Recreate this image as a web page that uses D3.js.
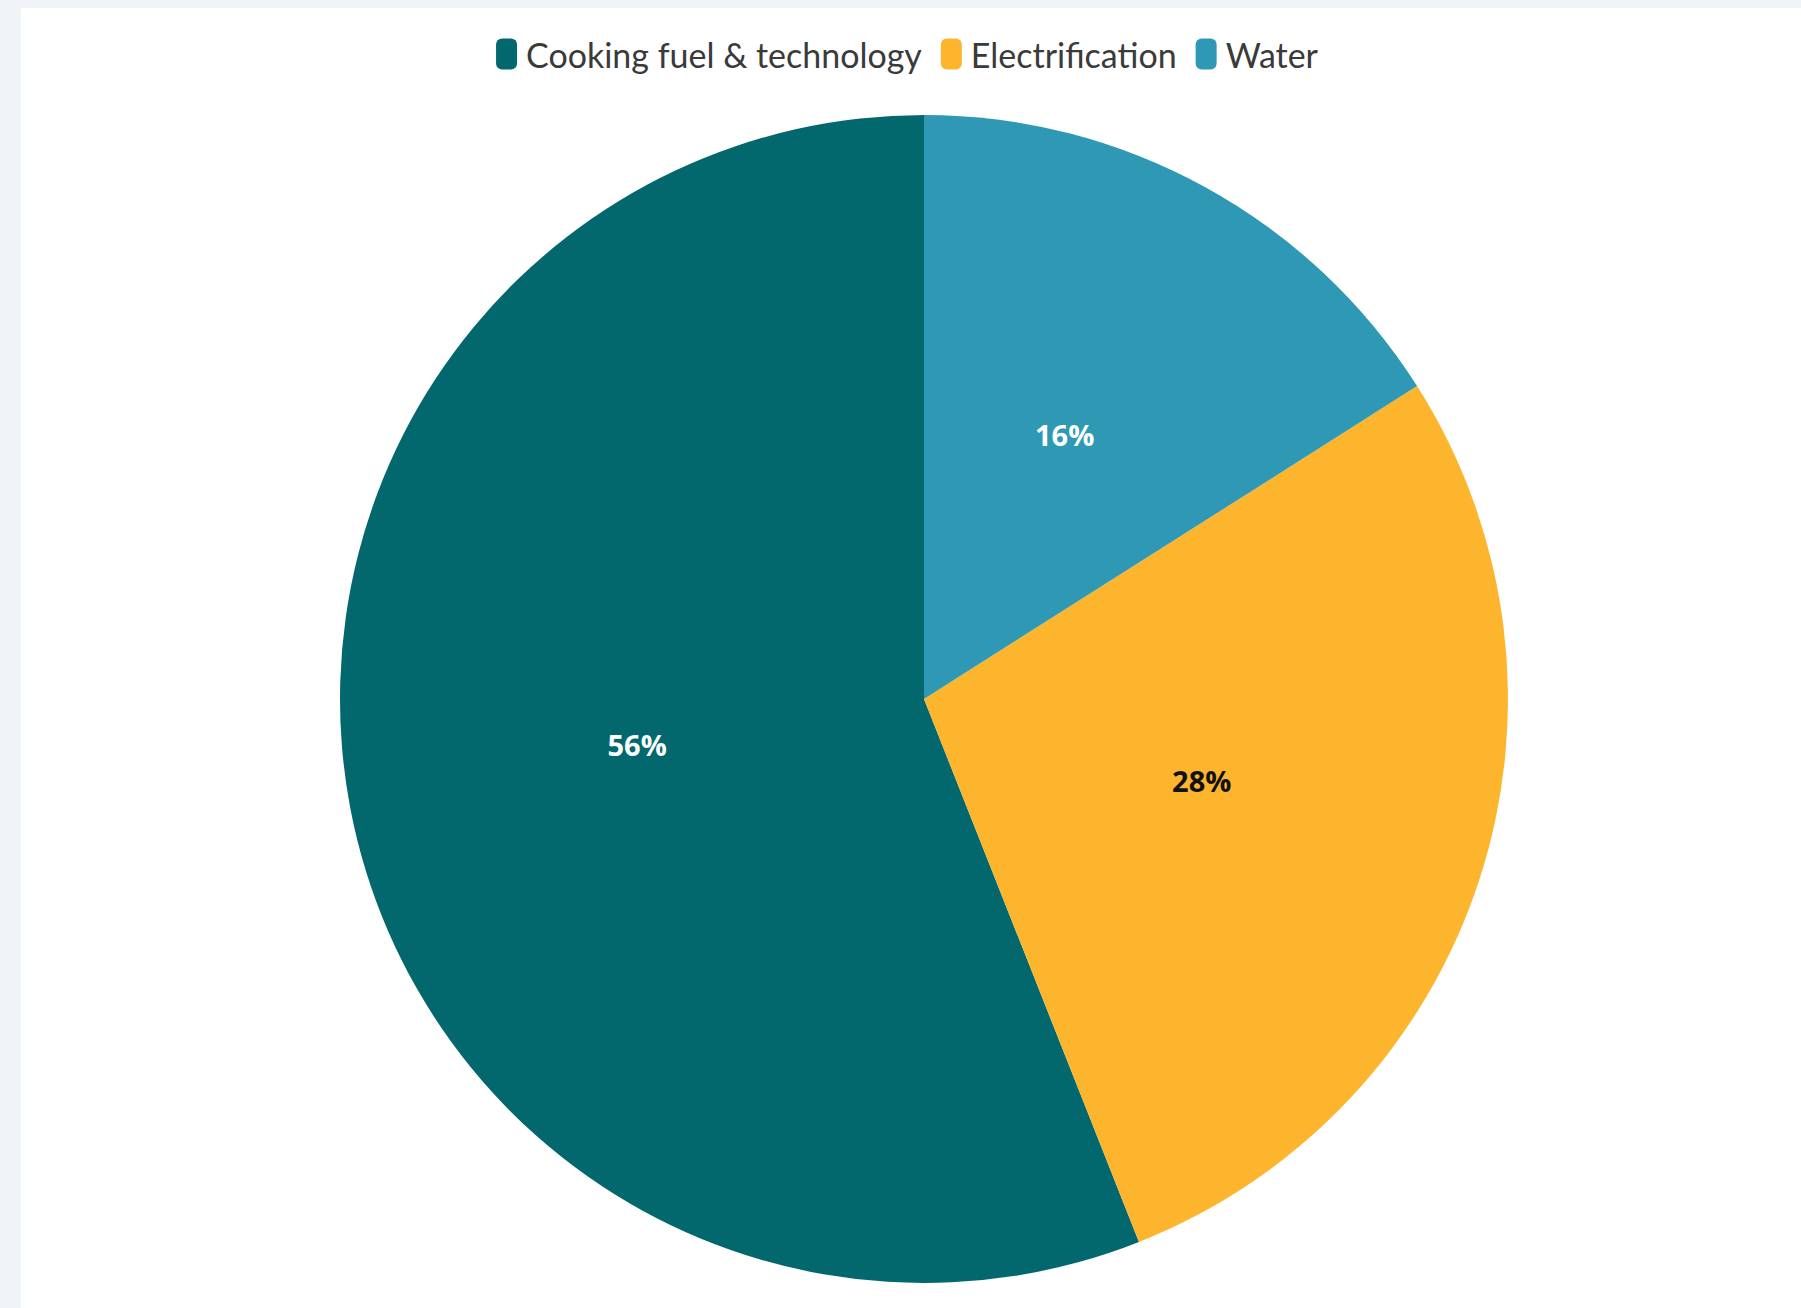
<!DOCTYPE html>
<html>
<head>
<meta charset="utf-8">
<script src="https://cdn.jsdelivr.net/npm/d3@7"></script>
<style>
  html, body { margin: 0; padding: 0; background: #f0f4f8; }
  svg { display: block; }
</style>
</head>
<body>
<svg id="chart" width="1801" height="1308"></svg>
<script>
const categories = ["Cooking fuel & technology", "Electrification", "Water"];
const values = [56, 28, 16];
const labels = ["56%", "28%", "16%"];
const colors = ["#02686e", "#fdb52e", "#2f99b5"];
const labelColors = ["#ffffff", "#111111", "#ffffff"];

const W = 1801, H = 1308;
const svg = d3.select("#chart");

// card background
svg.append("rect").attr("x", 21).attr("y", 8).attr("width", W - 21).attr("height", H - 8).attr("fill", "#ffffff");

const cx = 924, cy = 699, R = 584;
const g = svg.append("g").attr("transform", `translate(${cx},${cy})`);

const pie = d3.pie().sort(null).value(d => d).startAngle(0).endAngle(-2 * Math.PI);
const arcs = pie(values);
const arc = d3.arc().innerRadius(0).outerRadius(R);
const labelArc = d3.arc().innerRadius(R * 0.5).outerRadius(R * 0.5);

g.selectAll("path.slice").data(arcs).join("path")
  .attr("class", "slice")
  .attr("d", arc)
  .attr("fill", (d, i) => colors[i]);

g.selectAll("text.lbl").data(arcs).join("text")
  .attr("class", "lbl")
  .attr("transform", d => { const c = labelArc.centroid(d); return `translate(${c[0]},${c[1] - 9})`; })
  .attr("text-anchor", "middle")
  .attr("dominant-baseline", "central")
  .attr("font-family", "'Open Sans', sans-serif")
  .attr("font-weight", 700)
  .attr("font-size", 29)
  .attr("fill", (d, i) => labelColors[i])
  .text((d, i) => labels[i]);

// Legend
const legendY = 54;
const swW = 21, swH = 31, gapSwText = 9, gapItems = 19;
const probe = svg.append("text").attr("font-family", "Lato, sans-serif").attr("font-size", 100).text(categories[0]);
const pw = probe.node().getComputedTextLength();
probe.remove();
const fs = 100 * 396 / pw;

const legend = svg.append("g");
const items = legend.selectAll("g.item").data(categories).join("g").attr("class", "item");
items.append("rect")
  .attr("width", swW).attr("height", swH).attr("rx", 6).attr("ry", 6)
  .attr("y", legendY - swH / 2)
  .attr("fill", (d, i) => colors[i]);
items.append("text")
  .attr("x", swW + gapSwText)
  .attr("y", legendY)
  .attr("dominant-baseline", "central")
  .attr("font-family", "Lato, sans-serif")
  .attr("font-size", fs)
  .attr("fill", "#3a3a3a")
  .text(d => d);

let widths = [];
items.each(function () {
  widths.push(swW + gapSwText + d3.select(this).select("text").node().getComputedTextLength());
});
const total = d3.sum(widths) + gapItems * (widths.length - 1);
let x = 907 - total / 2;
items.each(function (d, i) {
  d3.select(this).attr("transform", `translate(${x},0)`);
  x += widths[i] + gapItems;
});
</script>
</body>
</html>
